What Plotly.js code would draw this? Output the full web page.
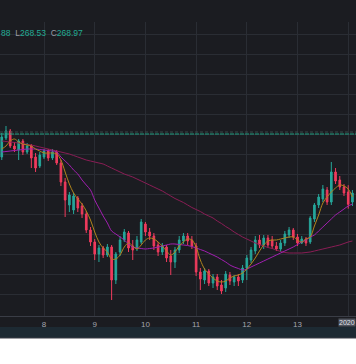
<!DOCTYPE html>
<html>
<head>
<meta charset="utf-8">
<script src="https://cdn.plot.ly/plotly-3.0.1.min.js"></script>
<style>html,body{margin:0;padding:0;background:#fff;}#chart{width:356px;height:364px;}</style>
</head>
<body>
<div id="chart"></div>
<script>
// 2-hour candles, Jan 7 04:00 .. Jan 14 02:00 (2020)
const startTime = '2020-01-07 04:00';
const candleHours = 2;
const openP = [273.70,275.60,276.30,274.80,274.40,275.30,274.20,274.80,273.70,272.80,
 273.70,274.30,273.60,274.20,273.10,271.20,268.90,268.40,269.60,268.80,
 268.00,266.40,265.20,264.00,264.60,263.90,264.70,261.40,264.20,265.40,
 266.10,264.80,264.60,265.20,267.00,266.20,265.80,264.90,264.20,264.70,
 263.80,263.20,264.40,265.30,265.80,265.40,264.80,262.20,261.40,262.30,
 261.10,261.70,260.90,260.60,261.90,261.20,261.70,261.40,262.60,263.40,
 264.30,265.40,264.90,265.60,265.40,264.80,264.50,265.10,265.90,266.40,
 265.70,265.10,265.50,265.20,267.50,268.90,269.50,270.40,269.20,272.20,
 271.40,270.70,270.20,269.20];
const highP = [276.10,276.80,276.50,275.20,275.50,275.50,275.10,275.00,274.10,274.20,
 274.50,274.50,274.50,274.40,273.40,271.60,270.20,270.10,269.80,269.10,
 268.30,266.70,265.50,264.90,264.80,265.00,264.90,264.20,265.80,266.50,
 266.30,265.40,265.80,267.50,267.20,266.60,266.10,265.20,265.10,264.90,
 264.40,264.70,265.80,266.10,266.10,265.80,265.10,262.60,262.60,262.50,
 262.00,262.00,261.40,262.30,262.20,261.90,262.00,262.90,263.90,264.70,
 265.80,265.90,265.90,265.90,265.80,265.20,265.40,266.30,266.70,266.60,
 266.00,265.80,265.70,267.80,269.10,270.00,270.90,270.70,273.20,272.60,
 271.80,271.00,270.88,270.40];
const lowP = [273.40,275.40,274.60,274.20,273.40,273.90,274.00,272.60,272.20,272.60,
 273.50,273.30,273.40,272.90,270.80,267.70,268.20,268.00,268.20,267.60,
 266.10,264.80,263.40,263.20,263.60,263.70,259.40,261.00,263.80,265.20,
 264.20,263.40,264.30,265.00,265.80,265.40,264.40,263.80,263.90,263.20,
 261.90,262.60,264.10,265.00,264.90,264.50,261.80,260.40,261.00,260.80,
 260.60,260.40,260.00,260.20,260.90,260.80,260.80,261.10,261.40,263.10,
 264.00,264.60,264.50,264.60,264.50,264.30,264.20,264.80,265.60,265.40,
 264.80,265.00,264.80,265.00,267.20,268.60,269.20,268.90,268.90,271.00,
 270.40,269.80,268.53,268.80];
const closeP = [275.70,276.30,274.80,274.50,275.30,274.20,274.80,273.60,272.60,273.90,
 274.30,273.60,274.20,273.10,271.20,269.40,269.90,269.80,268.60,268.00,
 266.40,265.20,264.00,264.60,263.90,264.70,261.40,264.00,265.40,266.20,
 264.60,264.40,265.40,267.20,266.20,265.80,264.80,264.20,264.80,263.60,
 263.20,264.40,265.40,265.80,265.30,264.80,262.20,261.50,262.30,261.10,
 261.70,260.80,260.30,262.00,261.30,261.70,261.30,262.60,263.60,264.40,
 265.40,264.90,265.60,264.90,264.80,264.50,265.10,266.00,266.40,265.70,
 265.10,265.50,265.10,267.60,268.90,269.70,270.50,269.20,272.20,271.30,
 270.70,270.10,268.97,270.10];
// moving averages (one value per candle)
const maFast = [274.50,274.80,275.30,275.50,275.20,275.00,274.90,274.80,274.50,274.30,
 274.10,274.10,274.10,274.00,273.40,272.20,271.00,270.10,269.50,269.00,
 268.30,267.40,266.20,265.20,264.60,264.20,263.50,263.50,263.90,264.70,
 265.10,264.80,264.50,264.90,265.40,265.60,265.50,265.20,264.80,264.30,
 263.90,264.20,264.80,265.20,265.50,265.40,264.70,263.40,262.50,262.00,
 261.60,261.30,261.20,261.30,261.60,261.80,261.90,262.10,262.50,263.00,
 263.60,264.30,264.90,265.30,265.40,265.40,265.50,265.60,265.70,265.70,
 265.40,265.20,265.50,265.70,266.80,267.90,269.10,269.70,270.20,270.60,
 270.90,270.80,270.50,269.70];
const maMid = [274.20,274.25,274.30,274.35,274.40,274.45,274.50,274.50,274.50,274.45,
 274.40,274.35,274.30,274.20,273.70,273.30,272.90,272.40,272.00,271.40,
 270.90,270.40,269.40,268.60,267.80,267.10,266.30,266.00,265.70,265.40,
 265.00,264.70,264.60,264.55,264.50,264.55,264.60,264.70,264.80,264.90,
 265.00,265.00,264.95,264.90,264.85,264.75,264.60,264.45,264.30,264.10,
 263.90,263.70,263.45,263.20,262.90,262.70,262.55,262.40,262.50,262.70,
 262.90,263.10,263.30,263.50,263.70,263.90,264.10,264.30,264.50,264.70,
 264.95,265.20,265.40,265.70,265.90,266.30,266.70,267.10,267.50,267.90,
 268.20,268.50,268.80,269.00];
const maSlow = [275.30,275.25,275.20,275.15,275.10,275.05,274.95,274.90,274.80,274.70,
 274.60,274.50,274.40,274.30,274.20,274.10,274.00,273.85,273.70,273.55,
 273.40,273.30,273.20,273.10,273.00,272.80,272.60,272.40,272.20,272.00,
 271.85,271.70,271.50,271.30,271.10,270.90,270.70,270.50,270.30,270.05,
 269.80,269.55,269.35,269.15,268.90,268.65,268.45,268.25,268.00,267.80,
 267.60,267.30,267.05,266.75,266.50,266.20,265.95,265.70,265.50,265.30,
 265.10,264.95,264.80,264.65,264.55,264.40,264.25,264.15,264.10,264.10,
 264.10,264.10,264.15,264.20,264.30,264.40,264.50,264.60,264.70,264.80,
 264.90,265.05,265.20,265.30];
const levelPrice = 276.0;
const dayTicks = ['2020-01-08','2020-01-09','2020-01-10','2020-01-11','2020-01-12','2020-01-13','2020-01-14'];
const dayLabels = ['8','9','10','11','12','13',''];
const priceGrid = [260,262,264,266,268,270,272,274,276,278,280,282,284,286];
const legendParts = ['88', 'L268.53', 'C268.97'];
const crossLabel = '2020';

function fmt(d){const p=n=>String(n).padStart(2,'0');return d.getUTCFullYear()+'-'+p(d.getUTCMonth()+1)+'-'+p(d.getUTCDate())+' '+p(d.getUTCHours())+':'+p(d.getUTCMinutes());}
const t0 = new Date(startTime.replace(' ','T')+':00Z').getTime();
const times = openP.map((_,i)=>fmt(new Date(t0 + i*candleHours*3600000)));

const UP='#26a69a', DOWN='#ef3b5d', BG='#1b1c21', GRID='#2a2d34';
const traces = [
 {type:'candlestick', x:times, open:openP, high:highP, low:lowP, close:closeP,
  increasing:{line:{color:UP,width:1},fillcolor:UP},
  decreasing:{line:{color:DOWN,width:1},fillcolor:DOWN}, whiskerwidth:0, hoverinfo:'skip'},
 {type:'scatter',mode:'lines',x:times,y:maSlow,line:{color:'#8a1c55',width:1,shape:'spline'},hoverinfo:'skip'},
 {type:'scatter',mode:'lines',x:times,y:maMid,line:{color:'#a11fb0',width:1,shape:'spline'},hoverinfo:'skip'},
 {type:'scatter',mode:'lines',x:times,y:maFast,line:{color:'#b0841c',width:1,shape:'spline'},hoverinfo:'skip'}
];
function colorize(parts){
  return parts.map(part=>{
    if (/^[A-Z]/.test(part)) return '<span style="color:#9a9da6">'+part[0]+'</span><span style="color:#22ab94">'+part.slice(1)+'</span>';
    return '<span style="color:#22ab94">'+part+'</span>';
  }).join('\u00a0\u00a0');
}
const H=294;
const layout = {
 width:356, height:364, margin:{l:0,r:0,t:22,b:48},
 paper_bgcolor:BG, plot_bgcolor:BG, showlegend:false, hovermode:false, boxgap:0.45,
 font:{family:'Liberation Sans, Arial, sans-serif', size:8, color:'#a3a6af'},
 xaxis:{type:'date', range:['2020-01-07 03:10','2020-01-14 03:41'], tickvals:dayTicks, ticktext:dayLabels,
   showgrid:true, gridcolor:GRID, gridwidth:1, ticks:'', showline:true, linecolor:'#3a3d46', linewidth:1,
   rangeslider:{visible:false}, zeroline:false, tickfont:{size:8,color:'#a3a6af'}, fixedrange:true},
 yaxis:{range:[257.8,287.2], tickvals:priceGrid, showticklabels:false, showgrid:true, gridcolor:GRID,
   zeroline:false, ticks:'', fixedrange:true},
 shapes:[
  {type:'line', xref:'paper', x0:0, x1:1, yref:'y', y0:levelPrice+0.2, y1:levelPrice+0.2, line:{color:'#3b4a4a',width:1,dash:'3px,2px'}},
  {type:'line', xref:'paper', x0:0, x1:1, yref:'y', y0:levelPrice, y1:levelPrice, line:{color:'#1f9e80',width:1,dash:'4px,1px'}},
  {type:'rect', xref:'paper', yref:'paper', x0:-0.01, x1:1.01, y0:-11/H, y1:-22/H, fillcolor:'#1d2a33', line:{width:0}, layer:'above'},
  {type:'rect', xref:'paper', yref:'paper', x0:-0.01, x1:1.01, y0:-22/H, y1:-50/H, fillcolor:'#ffffff', line:{width:0}, layer:'above'},
  {type:'line', xref:'paper', yref:'paper', x0:-0.01, x1:1.01, y0:-22/H, y1:-22/H, line:{color:'#3a3d46',width:1}, layer:'above'}
 ],
 annotations:[
  {xref:'paper', yref:'paper', x:-1/356, y:(316-33)/H, xanchor:'left', yanchor:'middle', showarrow:false,
   text:colorize(legendParts), font:{size:8.5,family:'Liberation Sans, Arial, sans-serif'}},
  {xref:'paper', yref:'paper', x:1, y:(316-322)/H, xanchor:'right', yanchor:'middle', showarrow:false,
   text:crossLabel, bgcolor:'#50545e', borderpad:0, font:{size:7,color:'#e0e3eb'}}
 ]
};
Plotly.newPlot('chart', traces, layout, {staticPlot:true, displayModeBar:false});
</script>
</body>
</html>
